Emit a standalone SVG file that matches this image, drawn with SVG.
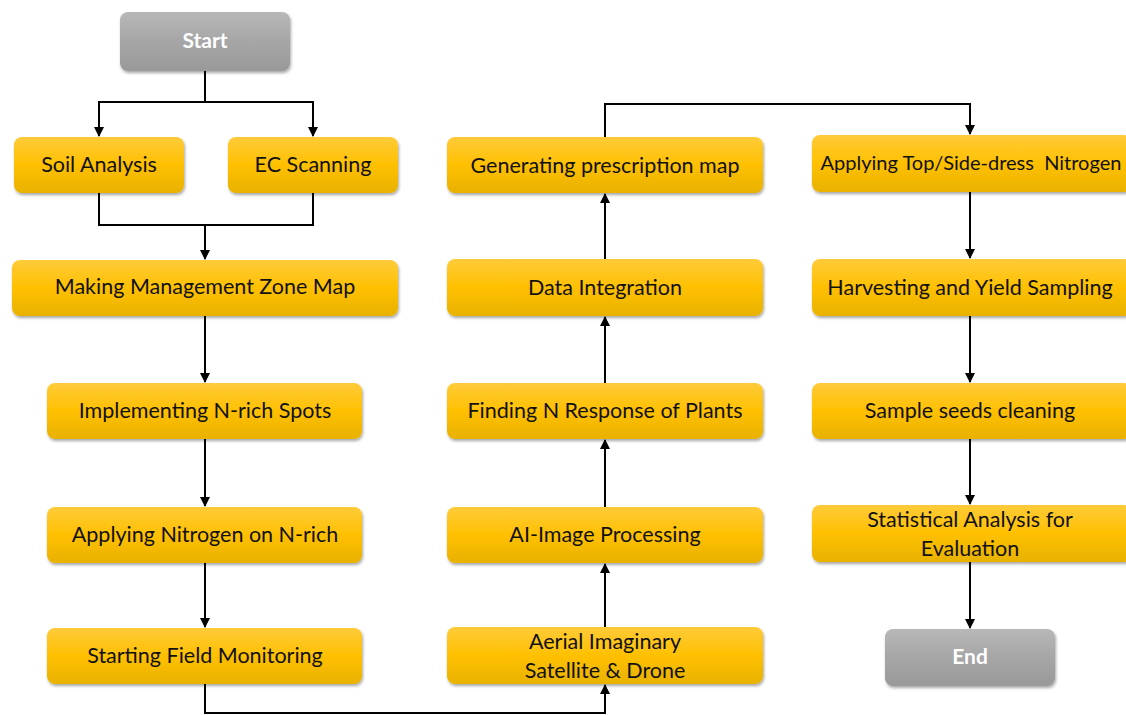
<svg xmlns="http://www.w3.org/2000/svg" width="1126" height="715" viewBox="0 0 1126 715">
<defs>
<linearGradient id="gy" x1="0" y1="0" x2="0" y2="1">
<stop offset="0" stop-color="#FFCB3A"/><stop offset="0.5" stop-color="#FFC000"/><stop offset="1" stop-color="#E8B200"/>
</linearGradient>
<linearGradient id="gg" x1="0" y1="0" x2="0" y2="1">
<stop offset="0" stop-color="#B8B8B8"/><stop offset="0.5" stop-color="#A6A6A6"/><stop offset="1" stop-color="#999999"/>
</linearGradient>
<filter id="sh" x="-10%" y="-20%" width="120%" height="150%">
<feDropShadow dx="1" dy="2" stdDeviation="1.5" flood-color="#000" flood-opacity="0.35"/>
</filter>
<marker id="ar" markerWidth="10" markerHeight="10" refX="9" refY="5" orient="auto" markerUnits="userSpaceOnUse">
<path d="M0,0 L10,5 L0,10 z" fill="#000"/>
</marker>
</defs>
<style>
.y{fill:url(#gy);filter:url(#sh)}
.g{fill:url(#gg);filter:url(#sh)}
.t{font-family:Lato,"Liberation Sans",sans-serif;font-size:21.5px;fill:#111;text-anchor:middle}
.w{font-family:Lato,"Liberation Sans",sans-serif;font-size:21px;font-weight:bold;fill:#fff;text-anchor:middle}
.c{fill:none;stroke:#000;stroke-width:2}
</style>
<g id="connectors">
<path class="c" d="M205,71 V102 H99 V136" marker-end="url(#ar)"/>
<path class="c" d="M205,102 H313 V136" marker-end="url(#ar)"/>
<path class="c" d="M99,193 V225 H313 V193"/>
<path class="c" d="M205,225 V259" marker-end="url(#ar)"/>
<path class="c" d="M205,316 V382" marker-end="url(#ar)"/>
<path class="c" d="M205,439 V506" marker-end="url(#ar)"/>
<path class="c" d="M205,563 V627" marker-end="url(#ar)"/>
<path class="c" d="M205,684 V713 H605 V685" marker-end="url(#ar)"/>
<path class="c" d="M605,627 V564" marker-end="url(#ar)"/>
<path class="c" d="M605,507 V440" marker-end="url(#ar)"/>
<path class="c" d="M605,383 V317" marker-end="url(#ar)"/>
<path class="c" d="M605,259 V194" marker-end="url(#ar)"/>
<path class="c" d="M605,137 V104 H970 V134" marker-end="url(#ar)"/>
<path class="c" d="M970,192 V258" marker-end="url(#ar)"/>
<path class="c" d="M970,316 V382" marker-end="url(#ar)"/>
<path class="c" d="M970,439 V504" marker-end="url(#ar)"/>
<path class="c" d="M970,562 V628" marker-end="url(#ar)"/>
</g>
<g id="start"><rect class="g" x="120" y="12" width="170" height="59" rx="8"/><text class="w" x="205" y="48">Start</text></g>
<g id="soil"><rect class="y" x="14" y="137" width="170" height="56" rx="8"/><text class="t" x="99" y="172">Soil Analysis</text></g>
<g id="ec"><rect class="y" x="228" y="137" width="170" height="56" rx="8"/><text class="t" x="313" y="172">EC Scanning</text></g>
<g id="zone"><rect class="y" x="12" y="260" width="386" height="56" rx="8"/><text class="t" x="205" y="294">Making Management Zone Map</text></g>
<g id="nrich"><rect class="y" x="47" y="383" width="315" height="56" rx="8"/><text class="t" x="205" y="418">Implementing N-rich Spots</text></g>
<g id="applyn"><rect class="y" x="47" y="507" width="315" height="56" rx="8"/><text class="t" x="205" y="542">Applying Nitrogen on N-rich</text></g>
<g id="monitor"><rect class="y" x="47" y="628" width="315" height="56" rx="8"/><text class="t" x="205" y="663">Starting Field Monitoring</text></g>
<g id="aerial"><rect class="y" x="447" y="627" width="316" height="57" rx="8"/><text class="t" x="605" y="649">Aerial Imaginary</text><text class="t" x="605" y="678">Satellite &amp; Drone</text></g>
<g id="ai"><rect class="y" x="447" y="507" width="316" height="56" rx="8"/><text class="t" x="605" y="542">AI-Image Processing</text></g>
<g id="response"><rect class="y" x="447" y="383" width="316" height="56" rx="8"/><text class="t" x="605" y="418">Finding N Response of Plants</text></g>
<g id="integration"><rect class="y" x="447" y="259" width="316" height="57" rx="8"/><text class="t" x="605" y="295">Data Integration</text></g>
<g id="prescription"><rect class="y" x="447" y="137" width="316" height="56" rx="8"/><text class="t" x="605" y="173">Generating prescription map</text></g>
<g id="topdress"><rect class="y" x="812" y="135" width="320" height="57" rx="8"/><text class="t" x="971" y="170" xml:space="preserve" style="font-size:20px;white-space:pre">Applying Top/Side-dress  Nitrogen</text></g>
<g id="harvest"><rect class="y" x="812" y="259" width="320" height="57" rx="8"/><text class="t" x="970" y="295">Harvesting and Yield Sampling</text></g>
<g id="seeds"><rect class="y" x="812" y="383" width="320" height="56" rx="8"/><text class="t" x="970" y="418">Sample seeds cleaning</text></g>
<g id="stats"><rect class="y" x="812" y="505" width="320" height="57" rx="8"/><text class="t" x="970" y="527">Statistical Analysis for</text><text class="t" x="970" y="556">Evaluation</text></g>
<g id="end"><rect class="g" x="885" y="629" width="170" height="57" rx="8"/><text class="w" x="970" y="664">End</text></g>
</svg>
